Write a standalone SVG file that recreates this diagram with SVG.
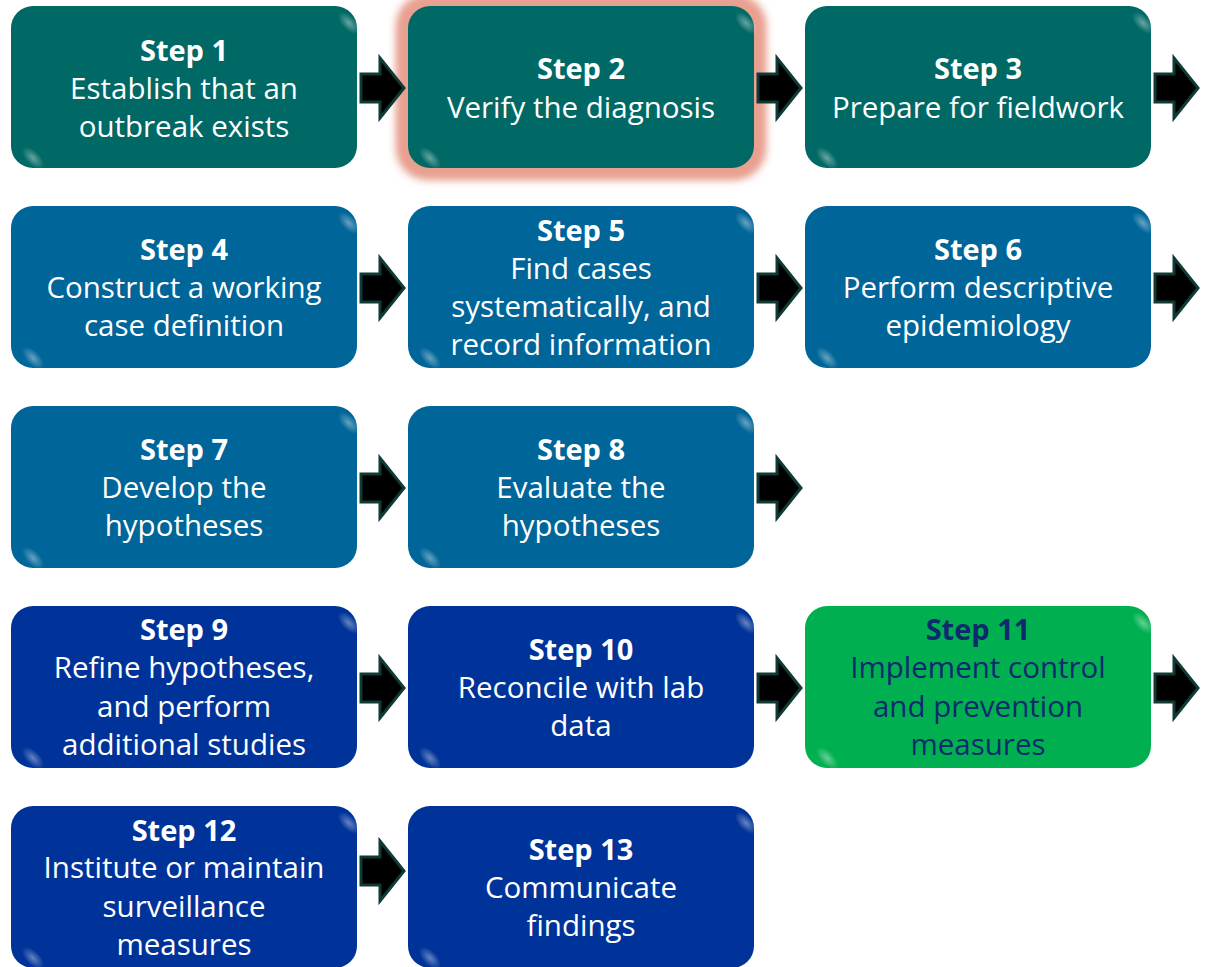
<svg xmlns="http://www.w3.org/2000/svg" width="1206" height="967" viewBox="0 0 1206 967">
<style>
.box{stroke:none}
.teal{fill:#006965}
.blue{fill:#006598}
.navy{fill:#003399}
.green{fill:#00b050}
text{font-family:"Open Sans","Noto Sans","Liberation Sans",sans-serif;font-size:29.5px;text-anchor:middle;fill:#ffffff}
.h{font-weight:bold;font-size:29px}
.dk{fill:#0d2a6e}
.arrow{fill:#000000;stroke:#0f3a36;stroke-width:3;stroke-linejoin:miter}
</style>
<defs>
<radialGradient id="hl" cx="0.5" cy="0.5" r="0.5">
<stop offset="0" stop-color="#ffffff" stop-opacity="0.4"/>
<stop offset="1" stop-color="#ffffff" stop-opacity="0"/>
</radialGradient>
<filter id="glow" x="-20%" y="-30%" width="140%" height="160%">
<feGaussianBlur stdDeviation="4"/>
</filter>
<g id="spots">
<ellipse cx="338" cy="17" rx="14" ry="7" fill="url(#hl)" transform="rotate(45 338 17)"/>
<ellipse cx="22" cy="152" rx="14" ry="7" fill="url(#hl)" transform="rotate(45 22 152)"/>
</g>
<path id="arr" d="M361,-14 H380 V-30 L404,0 L380,30 V14 H361 Z"/>
</defs>

<g id="step1" transform="translate(11,6)">
<rect class="box teal" width="346" height="162" rx="22"/>
<use href="#spots"/>
<text x="173" y="55" class="h">Step 1</text>
<text x="173" y="93">Establish that an</text>
<text x="173" y="131">outbreak exists</text>
</g>

<g id="step2" transform="translate(408,6)">
<rect x="-12" y="-12" width="370" height="186" rx="32" fill="#e8a090" filter="url(#glow)"/>
<rect x="-7" y="-7" width="360" height="176" rx="28" fill="#e8a090" filter="url(#glow)"/>
<rect class="box teal" width="346" height="162" rx="22"/>
<use href="#spots"/>
<text x="173" y="73" class="h">Step 2</text>
<text x="173" y="112">Verify the diagnosis</text>
</g>

<g id="step3" transform="translate(805,6)">
<rect class="box teal" width="346" height="162" rx="22"/>
<use href="#spots"/>
<text x="173" y="73" class="h">Step 3</text>
<text x="173" y="112">Prepare for fieldwork</text>
</g>

<g id="step4" transform="translate(11,206)">
<rect class="box blue" width="346" height="162" rx="22"/>
<use href="#spots"/>
<text x="173" y="54" class="h">Step 4</text>
<text x="173" y="92">Construct a working</text>
<text x="173" y="130">case definition</text>
</g>

<g id="step5" transform="translate(408,206)">
<rect class="box blue" width="346" height="162" rx="22"/>
<use href="#spots"/>
<text x="173" y="35" class="h">Step 5</text>
<text x="173" y="73">Find cases</text>
<text x="173" y="111">systematically, and</text>
<text x="173" y="149">record information</text>
</g>

<g id="step6" transform="translate(805,206)">
<rect class="box blue" width="346" height="162" rx="22"/>
<use href="#spots"/>
<text x="173" y="54" class="h">Step 6</text>
<text x="173" y="92">Perform descriptive</text>
<text x="173" y="130">epidemiology</text>
</g>

<g id="step7" transform="translate(11,406)">
<rect class="box blue" width="346" height="162" rx="22"/>
<use href="#spots"/>
<text x="173" y="54" class="h">Step 7</text>
<text x="173" y="92">Develop the</text>
<text x="173" y="130">hypotheses</text>
</g>

<g id="step8" transform="translate(408,406)">
<rect class="box blue" width="346" height="162" rx="22"/>
<use href="#spots"/>
<text x="173" y="54" class="h">Step 8</text>
<text x="173" y="92">Evaluate the</text>
<text x="173" y="130">hypotheses</text>
</g>

<g id="step9" transform="translate(11,606)">
<rect class="box navy" width="346" height="162" rx="22"/>
<use href="#spots"/>
<text x="173" y="34" class="h">Step 9</text>
<text x="173" y="72">Refine hypotheses,</text>
<text x="173" y="111">and perform</text>
<text x="173" y="149">additional studies</text>
</g>

<g id="step10" transform="translate(408,606)">
<rect class="box navy" width="346" height="162" rx="22"/>
<use href="#spots"/>
<text x="173" y="54" class="h">Step 10</text>
<text x="173" y="92">Reconcile with lab</text>
<text x="173" y="130">data</text>
</g>

<g id="step11" transform="translate(805,606)">
<rect class="box green" width="346" height="162" rx="22"/>
<use href="#spots"/>
<text x="173" y="34" class="h dk">Step 11</text>
<text x="173" y="72" class="dk">Implement control</text>
<text x="173" y="111" class="dk">and prevention</text>
<text x="173" y="149" class="dk">measures</text>
</g>

<g id="step12" transform="translate(11,806)">
<rect class="box navy" width="346" height="162" rx="22"/>
<use href="#spots"/>
<text x="173" y="35" class="h">Step 12</text>
<text x="173" y="72">Institute or maintain</text>
<text x="173" y="111">surveillance</text>
<text x="173" y="149">measures</text>
</g>

<g id="step13" transform="translate(408,806)">
<rect class="box navy" width="346" height="162" rx="22"/>
<use href="#spots"/>
<text x="173" y="54" class="h">Step 13</text>
<text x="173" y="92">Communicate</text>
<text x="173" y="130">findings</text>
</g>

<g id="connectors">
<use href="#arr" class="arrow" transform="translate(0,88)"/>
<use href="#arr" class="arrow" transform="translate(397,88)"/>
<use href="#arr" class="arrow" transform="translate(794,88)"/>
<use href="#arr" class="arrow" transform="translate(0,288)"/>
<use href="#arr" class="arrow" transform="translate(397,288)"/>
<use href="#arr" class="arrow" transform="translate(794,288)"/>
<use href="#arr" class="arrow" transform="translate(0,488)"/>
<use href="#arr" class="arrow" transform="translate(397,488)"/>
<use href="#arr" class="arrow" transform="translate(0,688)"/>
<use href="#arr" class="arrow" transform="translate(397,688)"/>
<use href="#arr" class="arrow" transform="translate(794,688)"/>
<use href="#arr" class="arrow" transform="translate(0,871)"/>
</g>
</svg>
